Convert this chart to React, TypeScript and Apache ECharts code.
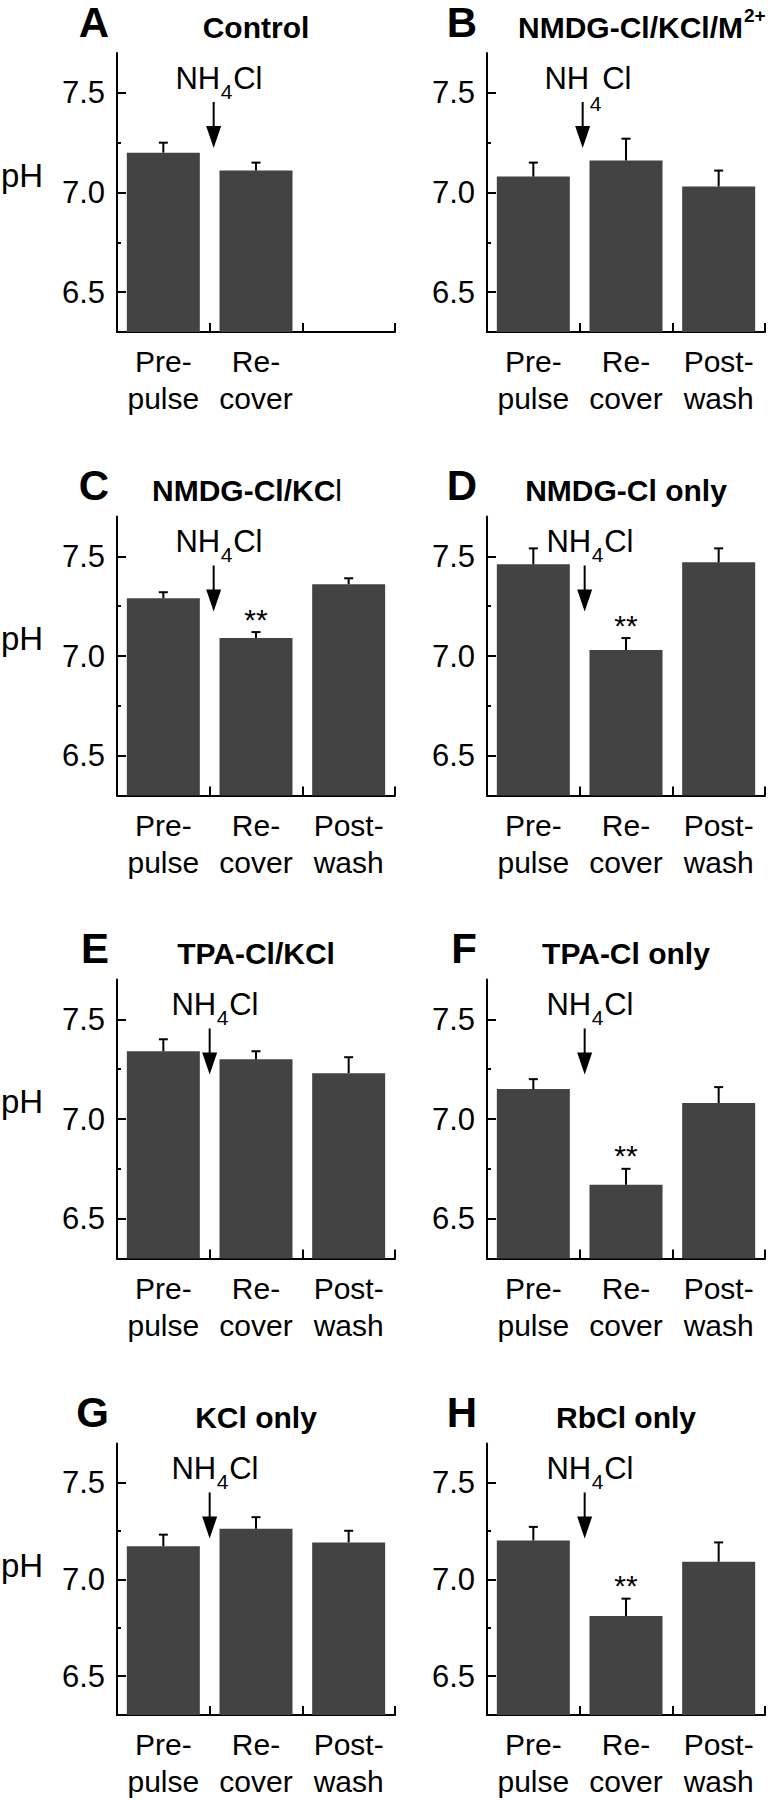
import React, { useEffect, useRef } from 'react';
import * as echarts from 'echarts';

// ---------- data ----------
const categories = ['Pre-\npulse', 'Re-\ncover', 'Post-\nwash'];
const categoriesA = ['Pre-\npulse', 'Re-\ncover', ''];

const panelLetters = ['A', 'B', 'C', 'D', 'E', 'F', 'G', 'H'];
const panelTitles = ['Control', 'NMDG-Cl/KCl/M', 'NMDG-Cl/KCl', 'NMDG-Cl only', 'TPA-Cl/KCl', 'TPA-Cl only', 'KCl only', 'RbCl only'];

const meanA = [7.20, 7.11];
const semA = [0.05, 0.04];
const sigA = ['', ''];

const meanB = [7.08, 7.16, 7.03];
const semB = [0.07, 0.11, 0.08];
const sigB = ['', '', ''];

const meanC = [7.29, 7.09, 7.36];
const semC = [0.03, 0.03, 0.03];
const sigC = ['', '**', ''];

const meanD = [7.46, 7.03, 7.47];
const semD = [0.08, 0.06, 0.07];
const sigD = ['', '**', ''];

const meanE = [7.34, 7.30, 7.23];
const semE = [0.06, 0.04, 0.08];
const sigE = ['', '', ''];

const meanF = [7.15, 6.67, 7.08];
const semF = [0.05, 0.08, 0.08];
const sigF = ['', '**', ''];

const meanG = [7.17, 7.26, 7.19];
const semG = [0.06, 0.06, 0.06];
const sigG = ['', '', ''];

const meanH = [7.20, 6.81, 7.09];
const semH = [0.07, 0.09, 0.10];
const sigH = ['', '**', ''];

const yTicks = [6.5, 7.0, 7.5];
const yMinorTicks = [6.75, 7.25];
const Y_MIN = 6.3;
const Y_MAX = 7.7;

// ---------- layout ----------
const FONT = '"Liberation Sans", Arial, Helvetica, sans-serif';
const LEFT_X = [117, 487];
const GRID_W = 278;
const ROW_TOP = [53, 516.5, 979.5, 1443.5];
const GRID_H = 279;
const LETTER_RIGHT = [109, 477];
const ARROW_SHIFT = [4, 3, 4, 5, 0, 5, 0, 5];
const BAR_COLOR = '#434343';

const panels = [
  { cats: categoriesA, mean: meanA, sem: semA, sig: sigA },
  { cats: categories, mean: meanB, sem: semB, sig: sigB },
  { cats: categories, mean: meanC, sem: semC, sig: sigC },
  { cats: categories, mean: meanD, sem: semD, sig: sigD },
  { cats: categories, mean: meanE, sem: semE, sig: sigE },
  { cats: categories, mean: meanF, sem: semF, sig: sigF },
  { cats: categories, mean: meanG, sem: semG, sig: sigG },
  { cats: categories, mean: meanH, sem: semH, sig: sigH },
];

function makeErrRender(sig: string[]) {
  return (params: any, api: any) => {
    const x = api.value(0);
    const m = api.value(1);
    const e = api.value(2);
    const p0 = api.coord([x, m]);
    const p1 = api.coord([x, m + e]);
    const children: any[] = [
      { type: 'line', shape: { x1: p0[0], y1: p0[1], x2: p1[0], y2: p1[1] }, style: { stroke: '#000', lineWidth: 2 } },
      { type: 'line', shape: { x1: p1[0] - 4.5, y1: p1[1], x2: p1[0] + 4.5, y2: p1[1] }, style: { stroke: '#000', lineWidth: 2 } },
    ];
    const s = sig[params.dataIndex];
    if (s) {
      children.push({
        type: 'text',
        x: p1[0],
        y: p1[1] - 13,
        style: { text: s, align: 'center', verticalAlign: 'middle', fontSize: 30, fontFamily: FONT, fill: '#000' },
      });
    }
    return { type: 'group', children };
  };
}

function buildOption() {
  const grid: any[] = [];
  const xAxis: any[] = [];
  const yAxis: any[] = [];
  const series: any[] = [];
  const graphic: any[] = [];

  panels.forEach((p, i) => {
    const row = Math.floor(i / 2);
    const col = i % 2;
    const left = LEFT_X[col];
    const top = ROW_TOP[row];
    grid.push({ left, top, width: GRID_W, height: GRID_H, containLabel: false });

    xAxis.push({
      type: 'category',
      gridIndex: i,
      data: p.cats,
      boundaryGap: true,
      axisLine: { show: true, onZero: false, lineStyle: { color: '#000', width: 2 } },
      axisTick: { show: true, inside: true, length: 9, lineStyle: { color: '#000', width: 2 } },
      axisLabel: { color: '#000', fontSize: 30, fontFamily: FONT, lineHeight: 37, margin: 11, interval: 0 },
      splitLine: { show: false },
    });

    yAxis.push({
      type: 'value',
      gridIndex: i,
      position: 'left',
      min: Y_MIN,
      max: Y_MAX,
      axisLine: { show: true, lineStyle: { color: '#000', width: 2 } },
      axisTick: { show: true, inside: true, length: 9, customValues: yTicks, lineStyle: { color: '#000', width: 2 } },
      axisLabel: {
        show: true,
        customValues: yTicks,
        formatter: (v: number) => v.toFixed(1),
        color: '#000',
        fontSize: 31,
        fontFamily: FONT,
        margin: 12,
      },
      splitLine: { show: false },
    });
    yAxis.push({
      type: 'value',
      gridIndex: i,
      position: 'left',
      offset: 0,
      min: Y_MIN,
      max: Y_MAX,
      axisLine: { show: false },
      axisTick: { show: true, inside: true, length: 4, customValues: yMinorTicks, lineStyle: { color: '#000', width: 2 } },
      axisLabel: { show: false },
      splitLine: { show: false },
    });

    series.push({
      type: 'bar',
      xAxisIndex: i,
      yAxisIndex: 2 * i,
      data: p.mean,
      barWidth: 73,
      itemStyle: { color: BAR_COLOR },
      z: 2,
    });
    series.push({
      type: 'custom',
      xAxisIndex: i,
      yAxisIndex: 2 * i,
      data: p.mean.map((m, j) => [j, m, p.sem[j]]),
      encode: { x: 0, y: 1 },
      renderItem: makeErrRender(p.sig),
      z: 3,
    });

    // panel letter
    graphic.push({
      type: 'text',
      x: LETTER_RIGHT[col],
      y: top - 31,
      style: { text: panelLetters[i], align: 'right', verticalAlign: 'middle', fontSize: 42, fontWeight: 'bold', fontFamily: FONT, fill: '#000' },
    });

    // title
    const cx = left + GRID_W / 2;
    if (i === 1) {
      graphic.push({
        type: 'text',
        x: 743,
        y: top - 26,
        style: { text: panelTitles[i], align: 'right', verticalAlign: 'middle', fontSize: 30, fontWeight: 'bold', fontFamily: FONT, fill: '#000' },
      });
      graphic.push({
        type: 'text',
        x: 744,
        y: top - 38,
        style: { text: '2+', align: 'left', verticalAlign: 'middle', fontSize: 19, fontWeight: 'bold', fontFamily: FONT, fill: '#000' },
      });
    } else if (i === 2) {
      graphic.push({
        type: 'text',
        x: cx - 9,
        y: top - 26,
        style: {
          text: '{b|NMDG-Cl/KC}{r|l}',
          align: 'center',
          verticalAlign: 'middle',
          fill: '#000',
          rich: {
            b: { fontSize: 30, fontWeight: 'bold', fontFamily: FONT, fill: '#000' },
            r: { fontSize: 30, fontWeight: 'normal', fontFamily: FONT, fill: '#000' },
          },
        },
      });
    } else {
      graphic.push({
        type: 'text',
        x: cx,
        y: top - 26,
        style: { text: panelTitles[i], align: 'center', verticalAlign: 'middle', fontSize: 30, fontWeight: 'bold', fontFamily: FONT, fill: '#000' },
      });
    }

    // pH label
    if (col === 0) {
      graphic.push({
        type: 'text',
        x: 22,
        y: top + 122,
        style: { text: 'pH', align: 'center', verticalAlign: 'middle', fontSize: 33, fontFamily: FONT, fill: '#000' },
      });
    }

    // NH4Cl + arrow
    const ax = left + GRID_W / 3 + ARROW_SHIFT[i];
    const subDrop = i === 1 ? 12 : 0;
    graphic.push({
      type: 'text', x: ax + 6.5, y: top + 25,
      style: { text: 'NH', align: 'right', verticalAlign: 'middle', fontSize: 31, fontFamily: FONT, fill: '#000' },
    });
    graphic.push({
      type: 'text', x: ax + 7, y: top + 38 + subDrop,
      style: { text: '4', align: 'left', verticalAlign: 'middle', fontSize: 21, fontFamily: FONT, fill: '#000' },
    });
    graphic.push({
      type: 'text', x: ax + 19.5, y: top + 25,
      style: { text: 'Cl', align: 'left', verticalAlign: 'middle', fontSize: 31, fontFamily: FONT, fill: '#000' },
    });
    graphic.push({
      type: 'line',
      shape: { x1: ax, y1: top + 49, x2: ax, y2: top + 75 },
      style: { stroke: '#000', lineWidth: 2 },
    });
    graphic.push({
      type: 'polygon',
      shape: { points: [[ax - 7.5, top + 73], [ax + 7.5, top + 73], [ax, top + 95]] },
      style: { fill: '#000' },
    });
  });

  return {
    animation: false,
    backgroundColor: '#fff',
    grid,
    xAxis,
    yAxis,
    series,
    graphic,
  };
}

export default function App() {
  const ref = useRef<HTMLDivElement>(null);
  useEffect(() => {
    if (!ref.current) return;
    const chart = echarts.init(ref.current, undefined, { renderer: 'svg' });
    chart.setOption(buildOption() as any);
    return () => chart.dispose();
  }, []);
  return (
    <div
      ref={ref}
      style={{ position: 'absolute', left: 0, top: 0, width: 771, height: 1800, background: '#fff' }}
    />
  );
}
